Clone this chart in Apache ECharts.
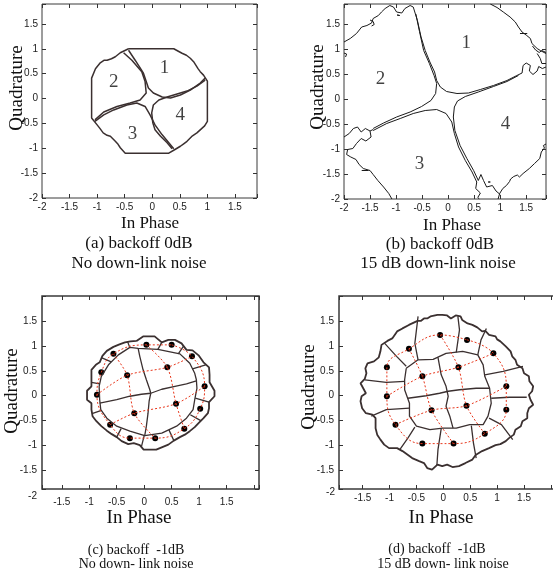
<!DOCTYPE html>
<html lang="en">
<head>
<meta charset="utf-8">
<title>Decision regions</title>
<script src="https://cdn.jsdelivr.net/npm/echarts@6.0.0/dist/echarts.min.js"></script>
<style>
    body { margin: 0; padding: 0; background: #fff; }
    #main { width: 553px; height: 575px; }
</style>
</head>
<body>
<div id="main"></div>

<script type="text/javascript">
// ---------- values (I / Q units) ----------

// (a) backoff 0dB, no down-link noise
var regionNames = ['1', '2', '3', '4'];
var a_numXY = [[0.22, 0.61], [-0.70, 0.33], [-0.36, -0.71], [0.51, -0.33]];
var a_outer = [[-0.43,1.0],[0.39,1.0],[0.54,0.91],[0.62,0.87],[0.69,0.81],[0.75,0.74],[0.79,0.67],[0.83,0.6],[0.87,0.54],[0.93,0.47],[1.0,0.35],[1.0,-0.46],[0.95,-0.55],[0.9,-0.6],[0.81,-0.69],[0.73,-0.75],[0.63,-0.86],[0.57,-0.91],[0.51,-0.96],[0.42,-1.02],[0.3,-1.1],[-0.49,-1.1],[-0.58,-0.99],[-0.62,-0.92],[-0.67,-0.86],[-0.76,-0.76],[-0.82,-0.74],[-0.89,-0.69],[-0.95,-0.6],[-1.0,-0.53],[-1.1,-0.39],[-1.1,0.41],[-1.03,0.6],[-0.95,0.71],[-0.87,0.77],[-0.82,0.77],[-0.74,0.8],[-0.67,0.84],[-0.58,0.92],[-0.43,1.0]];
var a_r1 = [[-0.43,0.97],[-0.31,0.77],[-0.16,0.51],[-0.1,0.31],[-0.07,0.21],[0.02,0.11],[0.18,0.03],[0.33,0.01],[0.51,0.07],[0.69,0.17],[0.87,0.31],[0.96,0.41]];
var a_r2 = [[-0.52,0.92],[-0.37,0.77],[-0.19,0.54],[-0.13,0.34],[-0.11,0.11],[-0.22,-0.03],[-0.4,-0.09],[-0.64,-0.16],[-0.88,-0.27],[-1.04,-0.43]];
var a_r3 = [[-1.04,-0.46],[-0.88,-0.33],[-0.7,-0.23],[-0.46,-0.13],[-0.28,-0.09],[-0.13,-0.16],[-0.04,-0.33],[0.05,-0.53],[0.18,-0.73],[0.3,-0.89],[0.39,-1.01]];
var a_r4 = [[0.96,0.37],[0.81,0.25],[0.63,0.15],[0.45,0.09],[0.27,0.03],[0.12,-0.03],[0.02,-0.13],[-0.01,-0.29],[0.01,-0.49],[0.05,-0.63],[0.15,-0.76],[0.27,-0.89],[0.36,-1.01]];

// (b) backoff 0dB, 15 dB down-link noise
var b_numXY = [[0.35, 1.12], [-1.30, 0.39], [-0.55, -1.31], [1.10, -0.51]];
var b_r1 = [[-0.67,1.84],[-0.59,1.57],[-0.52,1.24],[-0.44,0.97],[-0.35,0.74],[-0.26,0.54],[-0.22,0.37],[-0.15,0.24],[-0.03,0.15],[0.17,0.11],[0.39,0.12],[0.62,0.19],[0.87,0.27],[1.13,0.37],[1.32,0.47]];
var b_r2 = [[-0.62,1.7],[-0.55,1.35],[-0.47,0.97],[-0.36,0.71],[-0.27,0.47],[-0.22,0.31],[-0.24,0.11],[-0.33,-0.03],[-0.51,-0.15],[-0.73,-0.26],[-0.99,-0.36],[-1.24,-0.48],[-1.44,-0.59]];
var b_r3 = [[-1.44,-0.63],[-1.18,-0.49],[-0.92,-0.39],[-0.67,-0.29],[-0.44,-0.23],[-0.22,-0.21],[-0.04,-0.29],[0.07,-0.46],[0.12,-0.69],[0.2,-0.96],[0.33,-1.23],[0.46,-1.46],[0.55,-1.66]];
var b_r4 = [[1.35,0.47],[1.13,0.35],[0.87,0.25],[0.58,0.14],[0.33,0.05],[0.18,-0.04],[0.12,-0.16],[0.1,-0.36],[0.13,-0.63],[0.23,-0.93],[0.36,-1.19],[0.49,-1.43],[0.58,-1.63]];
var b_edges = [
    [[-2.0,1.14],[-1.88,1.21],[-1.76,1.31],[-1.66,1.44],[-1.56,1.47],[-1.47,1.52],[-1.44,1.61],[-1.34,1.67],[-1.28,1.74],[-1.21,1.81],[-1.12,1.87],[-1.05,1.84],[-0.99,1.74],[-0.89,1.72],[-0.83,1.81],[-0.73,1.87],[-0.67,1.84]],
    [[0.81,1.9],[0.94,1.83],[1.06,1.74],[1.19,1.64],[1.29,1.54],[1.35,1.44],[1.42,1.34],[1.51,1.27],[1.58,1.21],[1.61,1.11],[1.71,1.01],[1.77,0.97],[1.88,0.91]],
    [[1.32,0.47],[1.42,0.52],[1.44,0.67],[1.5,0.72],[1.58,0.67],[1.56,0.56],[1.63,0.49],[1.71,0.56],[1.74,0.65],[1.81,0.61],[1.88,0.64]],
    [[1.88,-0.9],[1.83,-0.93],[1.85,-0.98],[1.79,-1.06],[1.76,-1.19],[1.66,-1.29],[1.56,-1.39],[1.44,-1.49],[1.37,-1.56],[1.33,-1.52],[1.26,-1.55],[1.2,-1.6],[1.18,-1.65],[1.12,-1.73],[1.05,-1.79],[0.99,-1.89],[0.96,-2.0]],
    [[-2.0,-0.76],[-1.9,-0.69],[-1.82,-0.59],[-1.74,-0.56],[-1.67,-0.66],[-1.59,-0.59],[-1.5,-0.64],[-1.44,-0.61]],
    [[-1.5,-0.64],[-1.48,-0.76],[-1.58,-0.84],[-1.67,-0.79],[-1.76,-0.89],[-1.83,-0.99],[-1.93,-1.01],[-1.95,-1.11],[-1.87,-1.16],[-1.77,-1.21],[-1.71,-1.31],[-1.63,-1.39],[-1.5,-1.43],[-1.44,-1.51],[-1.35,-1.63],[-1.24,-1.76],[-1.14,-1.89],[-1.08,-2.0]],
    [[0.55,-1.66],[0.57,-1.69],[0.53,-1.79],[0.62,-1.88],[0.57,-1.97],[0.6,-2.0]],
    [[0.58,-1.63],[0.63,-1.51],[0.68,-1.63],[0.74,-1.76],[0.85,-1.73],[0.92,-1.84],[1.0,-1.91]],
    [[-1.5,1.58],[-1.44,1.55],[-1.42,1.49],[-1.47,1.46]],
    [[-0.98,1.68],[-0.95,1.7],[-0.93,1.67],[-0.96,1.65],[-0.98,1.68]],
    [[-2.0,0.92],[-1.95,0.9],[-1.97,0.84]],
    [[1.38,1.31],[1.52,1.31]],
    [[1.62,1.06],[1.68,0.98],[1.75,0.93],[1.8,0.97],[1.88,0.93]],
    [[1.71,0.91],[1.77,0.81],[1.8,0.71],[1.88,0.71]],
    [[0.77,-1.66],[0.79,-1.69],[0.81,-1.66],[0.79,-1.63],[0.77,-1.66]],
    [[-1.66,-1.43],[-1.53,-1.43]]
];

// (c) backoff -1dB, no down-link noise : received 16-point constellation
var c_pts = [[0.04,1.02],[0.50,1.02],[-0.56,0.84],[0.87,0.79],[-0.78,0.47],[0.42,0.57],[-0.31,0.41],[1.10,0.19],[-0.86,0.02],[0.58,-0.16],[1.02,-0.26],[-0.18,-0.35],[-0.62,-0.58],[0.73,-0.66],[-0.26,-0.85],[0.20,-0.85]];
var c_outer = [[-0.14,1.1],[-0.02,1.19],[0.19,1.19],[0.32,1.07],[0.44,1.12],[0.56,1.12],[0.68,1.05],[0.77,0.92],[0.88,0.91],[0.99,0.81],[1.08,0.67],[1.18,0.57],[1.19,0.42],[1.19,0.27],[1.28,0.1],[1.28,-0.01],[1.18,-0.13],[1.18,-0.25],[1.16,-0.35],[1.08,-0.45],[0.99,-0.55],[0.92,-0.63],[0.83,-0.71],[0.74,-0.78],[0.65,-0.83],[0.54,-0.9],[0.44,-0.98],[0.33,-1.03],[0.22,-1.08],[-0.01,-1.08],[-0.08,-0.99],[-0.19,-0.95],[-0.29,-0.97],[-0.41,-0.91],[-0.5,-0.83],[-0.59,-0.77],[-0.68,-0.7],[-0.78,-0.61],[-0.87,-0.51],[-0.94,-0.41],[-0.96,-0.28],[-0.96,-0.15],[-1.04,-0.08],[-1.04,0.1],[-0.96,0.19],[-0.96,0.35],[-0.96,0.52],[-0.88,0.62],[-0.81,0.67],[-0.76,0.8],[-0.68,0.9],[-0.56,0.98],[-0.45,1.03],[-0.35,1.07],[-0.25,1.09],[-0.14,1.1]];
var c_ring = [[-0.26,0.97],[-0.11,0.95],[0.25,0.93],[0.65,0.84],[0.83,0.65],[0.92,0.45],[0.95,0.32],[0.96,0.15],[0.92,-0.08],[0.89,-0.28],[0.77,-0.45],[0.59,-0.61],[0.32,-0.75],[0.01,-0.8],[-0.26,-0.71],[-0.5,-0.61],[-0.68,-0.45],[-0.79,-0.28],[-0.81,-0.08],[-0.82,0.19],[-0.78,0.39],[-0.65,0.62],[-0.47,0.82],[-0.26,0.97]];
var c_crossV = [[-0.11,0.95],[-0.08,0.79],[-0.02,0.52],[0.04,0.32],[0.1,0.13],[0.12,0.05],[0.09,-0.11],[0.07,-0.35],[0.04,-0.61],[0.01,-0.8]];
var c_crossH = [[-0.81,-0.15],[-0.72,-0.13],[-0.5,-0.08],[-0.26,-0.01],[-0.05,0.03],[0.12,0.05],[0.32,0.13],[0.56,0.19],[0.77,0.24],[0.95,0.3]];
var c_seps = [
    [[0.88,0.54],[1.12,0.62]], [[0.62,0.84],[0.72,1.0]], [[0.25,0.93],[0.32,1.07]],
    [[-0.26,0.96],[-0.3,1.08]], [[-0.6,0.68],[-0.77,0.76]], [[-0.81,0.24],[-0.96,0.27]],
    [[-0.79,-0.3],[-0.95,-0.36]], [[-0.42,-0.66],[-0.5,-0.83]], [[0.0,-0.8],[-0.05,-1.02]],
    [[0.45,-0.68],[0.54,-0.9]], [[0.84,-0.38],[1.03,-0.5]], [[0.93,-0.05],[1.18,-0.13]]
];

// (d) backoff -1dB, 15 dB down-link noise
var d_pts = [[-0.06,1.22],[0.44,1.12],[-0.64,0.94],[0.93,0.85],[-1.05,0.57],[0.28,0.57],[-0.39,0.39],[1.17,0.19],[-1.05,-0.01],[0.43,-0.20],[1.17,-0.28],[-0.22,-0.29],[-0.89,-0.58],[0.77,-0.76],[-0.39,-0.96],[0.19,-0.96]];
var d_outer = [[-0.48,1.5],[-0.42,1.5],[-0.36,1.55],[-0.3,1.55],[-0.24,1.59],[-0.11,1.62],[-0.02,1.62],[0.07,1.61],[0.14,1.55],[0.23,1.61],[0.32,1.59],[0.35,1.52],[0.45,1.45],[0.54,1.42],[0.63,1.37],[0.72,1.29],[0.78,1.3],[0.85,1.22],[0.97,1.19],[1.0,1.13],[1.06,1.09],[1.16,0.99],[1.25,0.89],[1.28,0.79],[1.34,0.72],[1.37,0.62],[1.47,0.55],[1.5,0.45],[1.59,0.39],[1.6,0.29],[1.67,0.19],[1.65,0.09],[1.59,0.02],[1.62,-0.08],[1.67,-0.18],[1.59,-0.25],[1.56,-0.35],[1.56,-0.45],[1.47,-0.51],[1.44,-0.61],[1.34,-0.68],[1.31,-0.78],[1.22,-0.85],[1.16,-0.91],[1.06,-0.97],[0.97,-0.99],[0.85,-1.05],[0.72,-1.11],[0.6,-1.19],[0.54,-1.28],[0.41,-1.35],[0.29,-1.41],[0.17,-1.43],[0.07,-1.38],[-0.02,-1.41],[-0.11,-1.38],[-0.21,-1.48],[-0.3,-1.45],[-0.36,-1.35],[-0.45,-1.31],[-0.58,-1.25],[-0.67,-1.18],[-0.76,-1.11],[-0.86,-1.05],[-1.01,-1.05],[-1.1,-0.98],[-1.17,-0.88],[-1.23,-0.78],[-1.26,-0.65],[-1.26,-0.45],[-1.32,-0.38],[-1.44,-0.35],[-1.51,-0.25],[-1.54,-0.11],[-1.52,-0.01],[-1.44,0.05],[-1.49,0.15],[-1.54,0.25],[-1.46,0.34],[-1.43,0.45],[-1.45,0.55],[-1.41,0.65],[-1.29,0.69],[-1.2,0.77],[-1.17,0.89],[-1.15,1.02],[-1.04,1.1],[-0.95,1.15],[-0.86,1.29],[-0.76,1.35],[-0.64,1.42],[-0.48,1.5]];
var d_ring = [[-0.69,0.55],[-0.47,0.72],[-0.19,0.73],[0.05,0.85],[0.36,0.89],[0.64,0.82],[0.74,0.62],[0.77,0.39],[0.86,0.15],[0.89,-0.15],[0.83,-0.41],[0.74,-0.58],[0.49,-0.58],[0.24,-0.65],[-0.01,-0.65],[-0.25,-0.68],[-0.5,-0.61],[-0.63,-0.41],[-0.63,-0.15],[-0.72,0.12],[-0.72,0.32],[-0.69,0.55]];
var d_crossV = [[-0.1,0.77],[-0.04,0.42],[0.05,0.19],[0.09,-0.01],[0.05,-0.21],[0.12,-0.41],[0.18,-0.65]];
var d_crossH = [[-0.66,-0.05],[-0.32,0.0],[-0.07,0.05],[0.09,0.09],[0.3,0.12],[0.61,0.15],[0.86,0.15]];
var d_seps = [
    [[-0.47,0.72],[-0.53,1.05],[-0.47,1.59]], [[0.24,0.87],[0.3,1.32],[0.27,1.59]],
    [[0.64,0.82],[0.7,1.12],[0.8,1.35]], [[0.77,0.42],[1.11,0.49],[1.48,0.59]],
    [[0.89,-0.05],[1.23,-0.03],[1.55,-0.03]], [[0.85,-0.45],[1.08,-0.58],[1.29,-0.88]],
    [[0.52,-0.6],[0.56,-0.95],[0.61,-1.25]], [[-0.04,-0.66],[-0.1,-1.08],[-0.12,-1.39]],
    [[-0.53,-0.63],[-0.66,-0.85],[-0.81,-1.08]], [[-0.63,-0.25],[-1.06,-0.28],[-1.34,-0.41]],
    [[-0.72,0.29],[-1.06,0.27],[-1.46,0.32]], [[-0.69,0.59],[-0.87,0.79],[-1.09,1.05]]
];

// red dashed lines join the received points (indices into c_pts / d_pts)
var ringIdx = [1, 3, 7, 10, 13, 15, 14, 12, 8, 4, 2, 0, 1];
var gridIdx = [[2, 6, 11, 15], [0, 5, 9, 13], [8, 6, 5, 3], [12, 11, 9, 7]];

// ---------- layout ----------
var grids = [
    {left: 42, top: 4, width: 215, height: 194},
    {left: 344, top: 4, width: 202, height: 195},
    {left: 42, top: 296, width: 217, height: 193},
    {left: 339, top: 296, width: 220, height: 193}
];
var xRanges = [[-2, 1.9], [-2, 1.88], [-1.86, 2.09], [-1.94, 2.15]];
var yRanges = [[-2, 1.9], [-2, 1.9], [-1.87, 2.0], [-1.87, 2.0]];
var xMargin = [4, 4, 8, 4];
var yMargin = [4, 4, 5, 5];
var boxWidth = [1, 1, 1.5, 1.5];

function tickText(v) {
    var h = v * 2;
    if (Math.abs(h - Math.round(h)) > 1e-6 || v > 1.5 + 1e-6) return '';
    return String(Math.round(h) / 2);
}

var xAxes = [], yAxes = [], gridOpts = [];
for (var g = 0; g < 4; g++) {
    gridOpts.push({
        left: grids[g].left, top: grids[g].top, width: grids[g].width, height: grids[g].height,
        containLabel: false, outerBoundsMode: 'none',
        show: true, borderColor: '#3a3a3a', borderWidth: boxWidth[g], backgroundColor: '#fff'
    });
    var tick = {show: true, inside: true, length: 4, lineStyle: {color: '#333', width: 1}};
    var line = {show: false, onZero: false};
    var lab = {fontSize: 10, color: '#222', fontFamily: '"Liberation Sans", Arial, sans-serif', formatter: tickText};
    xAxes.push({gridIndex: g, type: 'value', position: 'bottom', min: xRanges[g][0], max: xRanges[g][1], splitNumber: 8,
        axisLine: line, axisTick: tick, splitLine: {show: false},
        axisLabel: Object.assign({margin: xMargin[g]}, lab)});
    xAxes.push({gridIndex: g, type: 'value', position: 'top', min: xRanges[g][0], max: xRanges[g][1], splitNumber: 8,
        axisLine: line, axisTick: tick, splitLine: {show: false}, axisLabel: {show: false}});
    yAxes.push({gridIndex: g, type: 'value', position: 'left', min: yRanges[g][0], max: yRanges[g][1], splitNumber: 8,
        axisLine: line, axisTick: tick, splitLine: {show: false},
        axisLabel: Object.assign({margin: yMargin[g]}, lab)});
    yAxes.push({gridIndex: g, type: 'value', position: 'right', min: yRanges[g][0], max: yRanges[g][1], splitNumber: 8,
        axisLine: line, axisTick: tick, splitLine: {show: false}, axisLabel: {show: false}});
}

var series = [];
function addLine(g, pts, color, width, dash, smooth) {
    series.push({
        type: 'line', xAxisIndex: 2 * g, yAxisIndex: 2 * g, data: pts,
        symbol: 'none', showSymbol: false, smooth: smooth || false, clip: true, silent: true,
        lineStyle: {color: color, width: width, type: dash || 'solid'}
    });
}
function addNumbers(g, xy) {
    series.push({
        type: 'scatter', xAxisIndex: 2 * g, yAxisIndex: 2 * g, symbolSize: 1, silent: true,
        itemStyle: {color: 'rgba(0,0,0,0)'},
        label: {show: true, position: 'inside', formatter: '{b}', color: '#111', fontSize: 19,
            fontFamily: '"Liberation Serif", "Times New Roman", serif'},
        data: xy.map(function (p, i) { return {name: regionNames[i], value: p}; })
    });
}
function pick(pts, idx) {
    return idx.map(function (i) { return pts[i]; });
}
function addConstellation(g, pts) {
    addLine(g, pick(pts, ringIdx), '#e8361b', 1, [2, 2], 0.45);
    gridIdx.forEach(function (idx) {
        addLine(g, pick(pts, idx), '#e8361b', 1, [2, 2], 0.3);
    });
    series.push({
        type: 'scatter', xAxisIndex: 2 * g, yAxisIndex: 2 * g, symbolSize: 6, silent: true,
        itemStyle: {color: '#000', opacity: 1},
        data: pts
    });
}

// (a)
var dark = '#3b3030';
[a_outer, a_r1, a_r2, a_r3, a_r4].forEach(function (p) { addLine(0, p, dark, 1.5); });
addNumbers(0, a_numXY);
// (b)
[b_r1, b_r2, b_r3, b_r4].forEach(function (p) { addLine(1, p, '#1a1a1a', 1); });
b_edges.forEach(function (p) { addLine(1, p, '#1a1a1a', 1); });
addNumbers(1, b_numXY);
// (c)
addLine(2, c_outer, dark, 1.8);
addLine(2, c_ring, dark, 1.3);
addLine(2, c_crossV, dark, 1.3);
addLine(2, c_crossH, dark, 1.3);
c_seps.forEach(function (p) { addLine(2, p, dark, 1.3); });
addConstellation(2, c_pts);
// (d)
addLine(3, d_outer, dark, 1.8);
addLine(3, d_ring, dark, 1.3);
addLine(3, d_crossV, dark, 1.3);
addLine(3, d_crossH, dark, 1.3);
d_seps.forEach(function (p) { addLine(3, p, dark, 1.3); });
addConstellation(3, d_pts);

// ---------- text ----------
var serif = '"Liberation Serif", "Times New Roman", serif';
function txt(s, x, y, size, rot) {
    return {
        type: 'text', x: x, y: y, rotation: rot ? Math.PI / 2 : 0, silent: true,
        style: {text: s, font: size + 'px ' + serif, fill: '#111', textAlign: 'center', textVerticalAlign: 'middle'}
    };
}
var graphics = [
    txt('Quadrature', 17, 88, 19, true),
    txt('In Phase', 150, 224, 17),
    txt('(a) backoff 0dB', 139, 244, 17),
    txt('No down-link noise', 139, 264, 17),

    txt('Quadrature', 318, 87, 19, true),
    txt('In Phase', 452, 226, 17),
    txt('(b) backoff 0dB', 440, 245, 17),
    txt('15 dB down-link noise', 438, 264, 17),

    txt('Quadrature', 12, 391, 19, true),
    txt('In Phase', 139, 518, 19),
    txt('(c) backoff  -1dB', 136, 550, 14),
    txt('No down- link noise', 136, 564, 14),

    txt('Quadrature', 309, 387, 19, true),
    txt('In Phase', 441, 518, 19),
    txt('(d) backoff  -1dB', 437, 549, 14),
    txt('15 dB down- link noise', 443, 564, 14),

    {type: 'text', x: 37, y: 496, silent: true,
        style: {text: '-2', font: '10px "Liberation Sans", Arial, sans-serif', fill: '#222', textAlign: 'right', textVerticalAlign: 'middle'}},
    {type: 'text', x: 335, y: 492, silent: true,
        style: {text: '-2', font: '10px "Liberation Sans", Arial, sans-serif', fill: '#222', textAlign: 'right', textVerticalAlign: 'middle'}}
];

var myChart = echarts.init(document.getElementById('main'), null, {renderer: 'canvas'});
myChart.setOption({
    animation: false,
    backgroundColor: '#fff',
    grid: gridOpts,
    xAxis: xAxes,
    yAxis: yAxes,
    series: series,
    graphic: graphics
});
</script>
</body>
</html>
